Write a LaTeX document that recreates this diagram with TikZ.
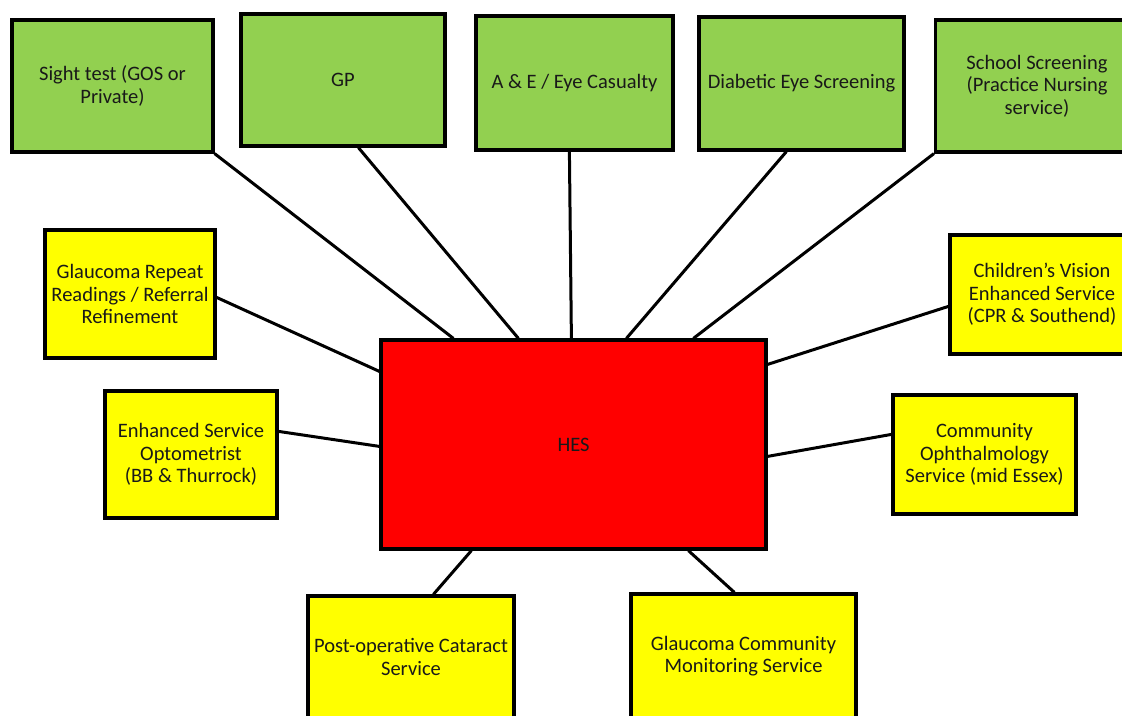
\documentclass[tikz,border=0pt]{standalone}
\usepackage{fontspec}
\setmainfont{Carlito}
\usetikzlibrary{calc}
\definecolor{boxgreen}{HTML}{92D050}
\definecolor{boxyellow}{HTML}{FFFF00}
\definecolor{boxred}{HTML}{FF0000}
\tikzset{
  box/.style={draw=black, line width=3.2pt, inner sep=2pt, align=center,
    font=\fontsize{20.5}{22.5}\selectfont, text=black!90},
  gbox/.style={box, fill=boxgreen},
  ybox/.style={box, fill=boxyellow},
  rbox/.style={box, fill=boxred},
  link/.style={draw=black, line width=3pt}
}
\begin{document}
\begin{tikzpicture}[x=1pt,y=-1pt]
\clip (0,0) rectangle (1122,715);
\fill[white] (0,0) rectangle (1122,715);
% green top row
\node[gbox, minimum width=201pt, minimum height=132pt] (sight) at (112.5,86) {Sight test (GOS or\\Private)};
\node[gbox, minimum width=204pt, minimum height=132pt] (gp) at (343,80) {GP};
\node[gbox, minimum width=197pt, minimum height=134pt] (ae) at (574.5,83) {A \& E / Eye Casualty};
\node[gbox, minimum width=205pt, minimum height=133pt] (dia) at (801.5,83.5) {Diabetic Eye Screening};
\node[gbox, minimum width=203pt, minimum height=132pt] (school) at (1037,86) {School Screening\\(Practice Nursing\\service)};
% yellow
\node[ybox, minimum width=170pt, minimum height=128pt] (glrep) at (130,294) {Glaucoma Repeat\\Readings / Referral\\Refinement};
\node[ybox, minimum width=172pt, minimum height=127pt] (enh) at (191,454.5) {Enhanced Service\\Optometrist\\(BB \& Thurrock)};
\node[ybox, minimum width=184pt, minimum height=119pt] (child) at (1042,294.5) {Children’s Vision\\Enhanced Service\\(CPR \& Southend)};
\node[ybox, minimum width=183pt, minimum height=119pt] (comm) at (984.5,454.5) {Community\\Ophthalmology\\Service (mid Essex)};
\node[ybox, minimum width=206pt, minimum height=122pt] (post) at (411,657) {Post-operative Cataract\\Service};
\node[ybox, minimum width=225pt, minimum height=124pt] (glcom) at (743.5,656) {Glaucoma Community\\Monitoring Service};
% centre
\node[rbox, minimum width=385pt, minimum height=209pt] (hes) at (573.5,444.5) {HES};
% connectors
\draw[link] (sight.south east) -- ($(hes.north west)+(74,0)$);
\draw[link] ($(gp.south west)+(119,0)$) -- ($(hes.north west)+(139,0)$);
\draw[link] ($(ae.south west)+(95,0)$) -- ($(hes.north west)+(192,0)$);
\draw[link] ($(dia.south west)+(89,0)$) -- ($(hes.north west)+(247,0)$);
\draw[link] (school.south west) -- ($(hes.north west)+(314,0)$);
\draw[link] ($(glrep.north east)+(0,69)$) -- ($(hes.north west)+(0,33)$);
\draw[link] ($(enh.north east)+(0,42)$) -- ($(hes.north west)+(0,108)$);
\draw[link] ($(child.north west)+(0,73)$) -- ($(hes.north east)+(0,26)$);
\draw[link] ($(comm.north west)+(0,41)$) -- ($(hes.north east)+(0,118)$);
\draw[link] ($(post.north west)+(127,0)$) -- ($(hes.south west)+(92,0)$);
\draw[link] ($(glcom.north west)+(105,0)$) -- ($(hes.south west)+(309,0)$);
\end{tikzpicture}
\end{document}
